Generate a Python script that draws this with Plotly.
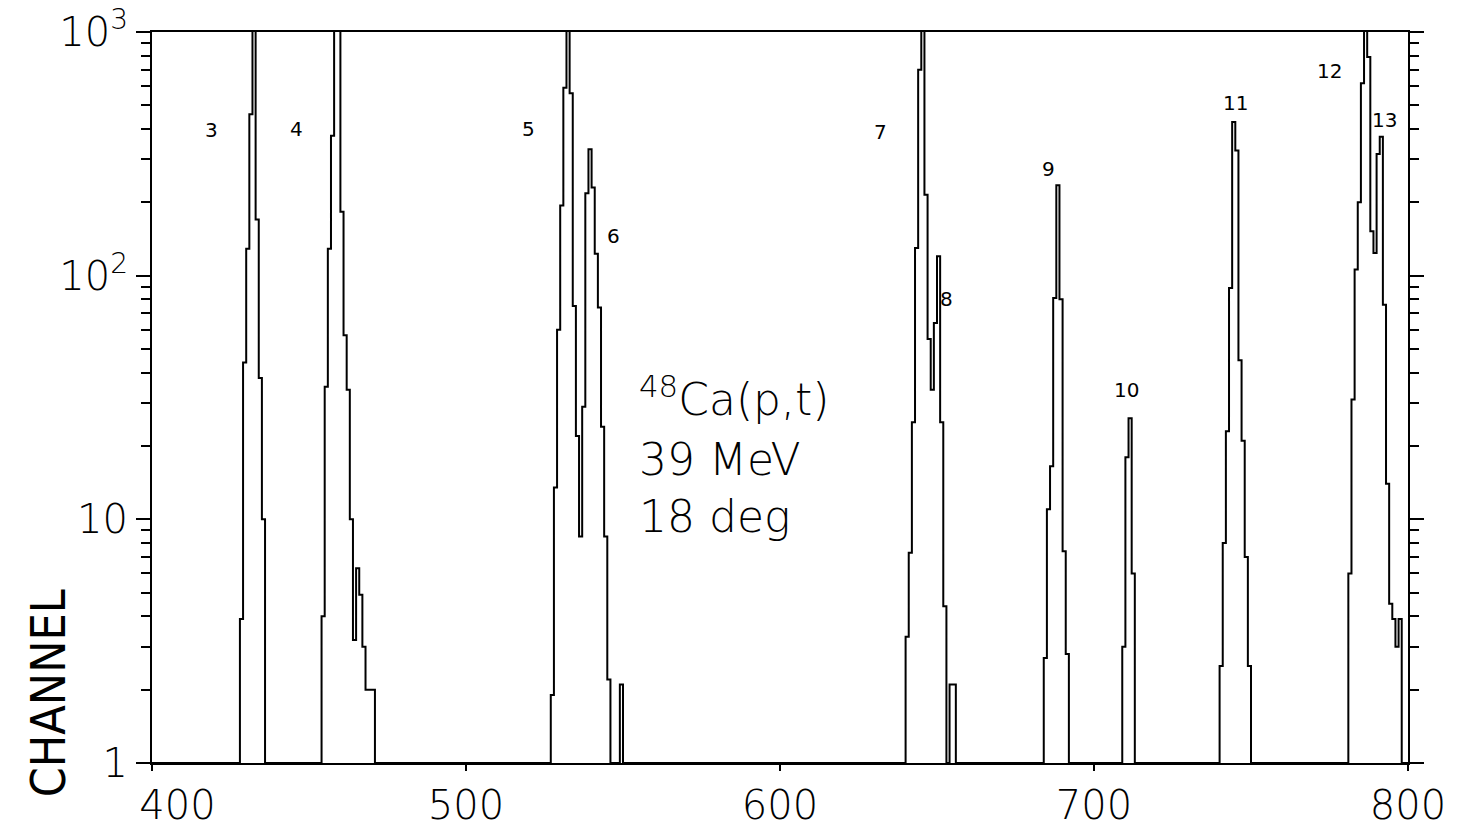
import numpy as np
import plotly.graph_objects as go

# ---------------- data (counts per channel) ----------------
channel_min, channel_max = 400, 800

peak3_start = 428
peak3_counts = [3.9, 44, 129, 460, 2000, 170, 38, 10]

peak4_start = 454
peak4_counts = [4, 35, 129, 375, 2000, 2000, 183, 57, 34, 10, 3.2, 6.3, 4.9, 3.0, 2.0, 2.0, 2.0]

peak56_start = 527
peak56_counts = [1.9, 13.5, 60, 194, 590, 2000, 560, 75, 22, 8.5, 29, 218, 330, 230, 123, 74, 24, 8.5, 2.2]

spike549_start = 549
spike549_counts = [2.1]

peak78_start = 640
peak78_counts = [3.3, 7.3, 25, 130, 700, 2000, 215, 55, 34, 64, 120, 25, 4.4]

spike654_start = 654
spike654_counts = [2.1, 2.1]

peak9_start = 684
peak9_counts = [2.7, 11, 16.5, 81, 235, 80, 7.4, 2.8]

peak10_start = 709
peak10_counts = [3.0, 18, 26, 6.0]

peak11_start = 740
peak11_counts = [2.5, 8, 23, 89, 427, 326, 45, 21, 7, 2.5]

peak1213_start = 781
peak1213_counts = [6, 31, 106, 200, 616, 2000, 790, 152, 124, 316, 372, 76, 14, 4.5, 3.9, 3.0, 3.9]

peak_label_text = ["3", "4", "5", "6", "7", "8", "9", "10", "11", "12", "13"]
peak_label_channel = [419, 446, 520, 547, 632, 653, 685.5, 710.5, 745, 775, 792.5]
peak_label_count = [398, 400, 400, 145, 390, 80, 275, 34, 510, 690, 435]

x_tick_vals = [400, 500, 600, 700, 800]
x_tick_text = ["&nbsp;&nbsp;&nbsp;&nbsp;400", "500", "600", "700", "800"]
y_tick_vals = [1, 10, 100, 1000]
y_tick_text = ["1", "10", "10<sup>2</sup>", "10<sup>3</sup>"]
y_minor_vals = [m * 10 ** d for d in range(3) for m in range(2, 10)]

info_lines = ["<sup>48</sup>Ca(p,t)", "39 MeV", "18 deg"]
info_channel = 554.5
info_count = [32, 17.6, 10.3]

# ---------------- build spectrum ----------------
channels = np.arange(channel_min, channel_max + 1)
counts = np.zeros(len(channels))
segments = [
    (peak3_start, peak3_counts), (peak4_start, peak4_counts),
    (peak56_start, peak56_counts), (spike549_start, spike549_counts),
    (peak78_start, peak78_counts), (spike654_start, spike654_counts),
    (peak9_start, peak9_counts), (peak10_start, peak10_counts),
    (peak11_start, peak11_counts), (peak1213_start, peak1213_counts),
]
for start, vals in segments:
    i0 = start - channel_min
    counts[i0:i0 + len(vals)] = vals
counts = np.maximum(counts, 1.0)  # empty channels sit on the baseline

FONT = "DejaVu Sans"
BIG = dict(family=FONT, size=40, color="black", weight=200)

fig = go.Figure()
fig.add_trace(go.Scatter(
    x=channels, y=counts, mode="lines", line=dict(shape="hv", color="black", width=2),
    hoverinfo="skip",
))

for t, c, v in zip(peak_label_text, peak_label_channel, peak_label_count):
    fig.add_annotation(x=c, y=np.log10(v), text=t, showarrow=False,
                       font=dict(family=FONT, size=20, color="black"))

for t, v in zip(info_lines, info_count):
    fig.add_annotation(x=info_channel, y=np.log10(v), text=t, showarrow=False,
                       xanchor="left", yanchor="middle",
                       font=dict(family=FONT, size=44, color="black", weight=200))

fig.add_annotation(xref="paper", yref="paper", x=-0.083, y=0.095, text="CHANNEL",
                   textangle=-90, showarrow=False, xanchor="center", yanchor="middle",
                   font=dict(family="DejaVu Sans Condensed, " + FONT, size=48, color="black", weight=200))

fig.update_layout(
    width=1462, height=835,
    margin=dict(l=152, r=54, t=32, b=72, autoexpand=False),
    paper_bgcolor="white", plot_bgcolor="white",
    showlegend=False,
    xaxis=dict(range=[channel_min, channel_max], tickvals=x_tick_vals, ticktext=x_tick_text,
               ticks="outside", ticklen=6, tickwidth=2, tickcolor="black",
               showline=True, linewidth=2, linecolor="black", mirror=True,
               showgrid=False, zeroline=False, tickfont=BIG, automargin=False),
    yaxis=dict(type="log", range=[0, 3], tickvals=y_tick_vals, ticktext=y_tick_text,
               ticks="outside", ticklen=14, tickwidth=2, tickcolor="black",
               minor=dict(tickvals=y_minor_vals, ticks="outside", ticklen=9,
                          tickwidth=1.5, tickcolor="black", showgrid=False),
               showline=True, linewidth=2, linecolor="black", mirror="ticks",
               showgrid=False, zeroline=False, tickfont=BIG, automargin=False),
)

fig.write_html("out.html")
